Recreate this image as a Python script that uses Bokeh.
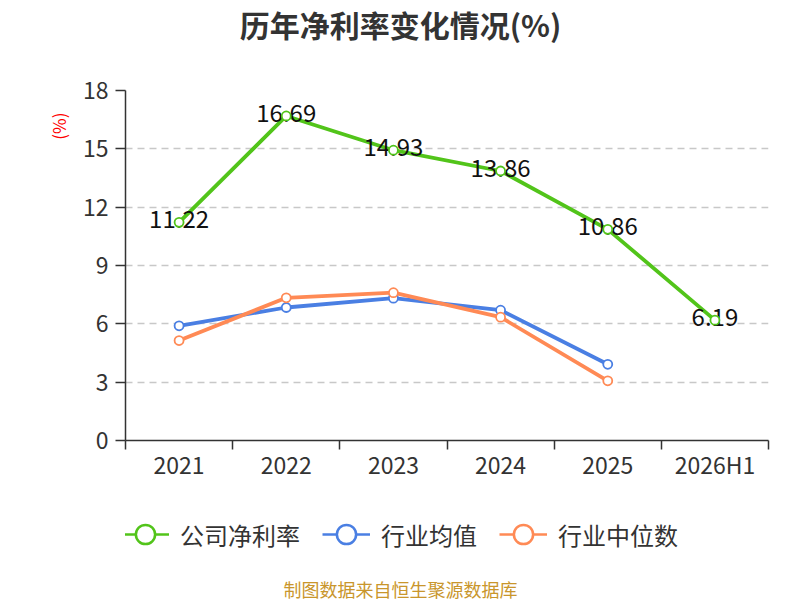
from bokeh.plotting import figure
from bokeh.layouts import column
from bokeh.models import FixedTicker, Label, Legend, LegendItem, ColumnDataSource, Range1d, Title
from bokeh.core.properties import value
from bokeh.embed import file_html
from bokeh.resources import INLINE

categories = ["2021", "2022", "2023", "2024", "2025", "2026H1"]
company = [11.22, 16.69, 14.93, 13.86, 10.86, 6.19]
ind_avg = [5.90, 6.84, 7.32, 6.70, 3.92]
ind_med = [5.14, 7.34, 7.60, 6.34, 3.07]
y_ticks = [0, 3, 6, 9, 12, 15, 18]
series_names = ["公司净利率", "行业均值", "行业中位数"]
chart_title = "历年净利率变化情况(%)"
y_name = "(%)"
source_note = "制图数据来自恒生聚源数据库"

FONT = "Noto Sans CJK SC"
GREEN = "#52c41a"
BLUE = "#4a7fe3"
ORANGE = "#ff8a55"
colors = [GREEN, BLUE, ORANGE]
W = 800
BL, BR = 125, 32          # left/right borders shared by all strips (frames get aligned)
TOP_H, MAIN_H, BOT_H = 50, 440, 110


def blank_fig(h):
    # strip whose frame spans page x BL..W-BR; data x == page x, data y == pixels from strip top
    f = figure(width=W, height=h, output_backend="svg", toolbar_location=None, title=None,
               x_axis_type=None, y_axis_type=None,
               x_range=Range1d(BL, W - BR), y_range=Range1d(h, 0),
               min_border_left=BL, min_border_right=BR, min_border_top=0, min_border_bottom=0)
    f.outline_line_color = None
    f.background_fill_color = "white"
    return f


# ---- title strip
top = blank_fig(TOP_H)
top.add_layout(Label(x=W / 2, y=23, text=chart_title, text_align="center", text_baseline="middle",
                     text_font=FONT, text_font_size="30px", text_font_style="bold",
                     text_color="#333333"))

# ---- main chart
p = figure(width=W, height=MAIN_H, output_backend="svg", toolbar_location=None, title=None,
           x_range=Range1d(0, len(categories)), y_range=Range1d(0, 18),
           min_border_left=BL, min_border_right=BR, min_border_top=40, min_border_bottom=50)
p.outline_line_color = None
p.background_fill_color = "white"

centers = [i + 0.5 for i in range(len(categories))]

xa = p.xaxis[0]
xa.ticker = FixedTicker(ticks=centers, minor_ticks=list(range(len(categories) + 1)))
xa.major_label_overrides = {c: lab for c, lab in zip(centers, categories)}
xa.major_tick_line_color = None
xa.major_tick_out = 0
xa.major_tick_in = 0
xa.minor_tick_line_color = "#333333"
xa.minor_tick_out = 9
xa.minor_tick_in = 0
xa.minor_tick_line_width = 1.5
xa.axis_line_color = "#333333"
xa.axis_line_width = 1.5
xa.major_label_text_font = FONT
xa.major_label_text_font_size = "23px"
xa.major_label_text_color = "#333333"
xa.major_label_standoff = -3

ya = p.yaxis[0]
ya.ticker = FixedTicker(ticks=y_ticks, minor_ticks=[])
ya.axis_line_color = "#333333"
ya.axis_line_width = 1.5
ya.major_tick_line_color = "#333333"
ya.major_tick_line_width = 1.5
ya.major_tick_out = 10
ya.major_tick_in = 0
ya.major_label_text_font = FONT
ya.major_label_text_font_size = "23px"
ya.major_label_text_color = "#333333"
ya.major_label_standoff = 7

p.add_layout(Title(text=y_name, align="right", offset=22, standoff=17, text_font=FONT,
                   text_font_size="17px", text_font_style="normal", text_color="#ff0000"), "left")

p.xgrid.visible = False
p.ygrid.ticker = FixedTicker(ticks=y_ticks[1:])
p.ygrid.grid_line_color = "#c8c8c8"
p.ygrid.grid_line_width = 1.5
p.ygrid.grid_line_dash = "7 5"

series = [company, ind_avg, ind_med]
sources = [ColumnDataSource(dict(x=centers[:len(s)], y=s)) for s in series]
sources[0].data["t"] = [f"{v:.2f}" for v in company]

for src, col in zip(sources, colors):
    p.line("x", "y", source=src, line_color=col, line_width=3.8)

p.text("x", "y", text="t", source=sources[0], text_align="center", text_baseline="middle",
       text_font=value(FONT), text_font_size="24px", text_color="#111111", y_offset=-3)

for src, col in zip(sources, colors):
    p.scatter("x", "y", source=src, size=9, marker="circle", fill_color="white",
              line_color=col, line_width=1.8)

# ---- legend + source strip (legend proxies reuse the series data, which lies outside this strip's ranges)
bot = blank_fig(BOT_H)
items = []
for name, s, col in zip(series_names, series, colors):
    proxy = ColumnDataSource(dict(x=centers[:len(s)], y=s))
    r1 = bot.line("x", "y", source=proxy, line_color=col, line_width=2.5)
    r2 = bot.scatter("x", "y", source=proxy, marker="circle", size=20, fill_color="white",
                     line_color=col, line_width=2.5)
    items.append(LegendItem(label=name, renderers=[r1, r2]))
legend = Legend(items=items, orientation="horizontal", location=(-4, 42),
                label_text_font=FONT, label_text_font_size="24px", label_text_color="#333333",
                glyph_width=48, glyph_height=48, spacing=22, label_standoff=11,
                padding=0, margin=0, border_line_color=None, background_fill_alpha=0)
bot.add_layout(legend, "center")
bot.add_layout(Label(x=W / 2, y=98, text=source_note, text_align="center", text_baseline="middle",
                     text_font=FONT, text_font_size="18px", text_color="#c9962c"))

layout = column(top, p, bot, spacing=0)
open("out.html", "w").write(file_html(layout, INLINE))
